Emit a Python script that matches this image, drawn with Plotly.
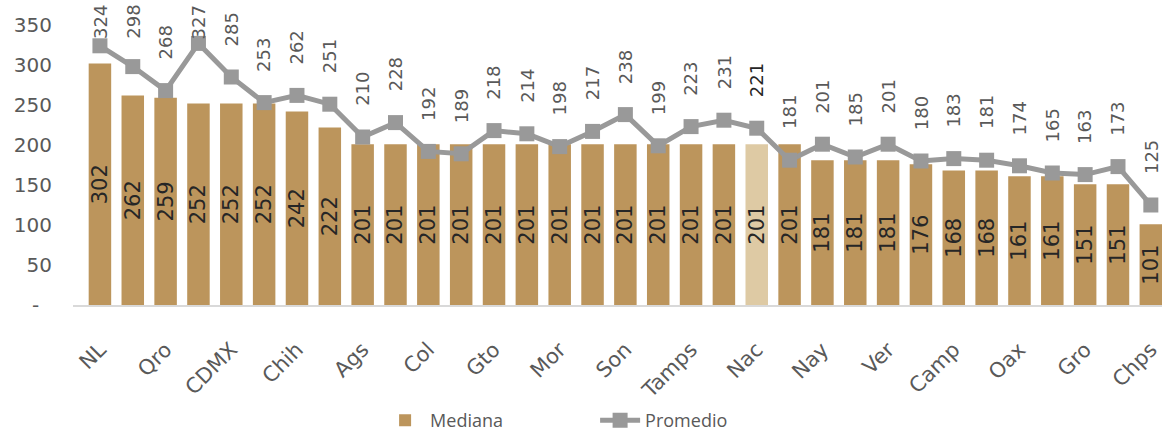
import plotly.graph_objects as go

categories = ["NL", "BC", "Qro", "Coah", "CDMX", "BCS", "Chih", "Sin", "Ags", "Jal", "Col",
              "QRoo", "Gto", "Mex", "Mor", "Hgo", "Son", "Pue", "Tamps", "Yuc", "Nac", "Dgo",
              "Nay", "SLP", "Ver", "Mich", "Camp", "Zac", "Oax", "Tab", "Gro", "Tlax", "Chps"]
mediana = [302, 262, 259, 252, 252, 252, 242, 222, 201, 201, 201, 201, 201, 201, 201, 201, 201,
           201, 201, 201, 201, 201, 181, 181, 181, 176, 168, 168, 161, 161, 151, 151, 101]
promedio = [324, 298, 268, 327, 285, 253, 262, 251, 210, 228, 192, 189, 218, 214, 198, 217, 238,
            199, 223, 231, 221, 181, 201, 185, 201, 180, 183, 181, 174, 165, 163, 173, 125]
shown_ticks = categories[::2]
y_ticks = [0, 50, 100, 150, 200, 250, 300, 350]
y_ticktext = ["-\u00a0\u00a0", "50", "100", "150", "200", "250", "300", "350"]

GOLD = "#BC955C"
LIGHT = "#DECAA4"
GRAY = "#999999"
FONT = "DejaVu Sans"

bar_colors = [LIGHT if c == "Nac" else GOLD for c in categories]

fig = go.Figure()
fig.add_trace(go.Bar(
    x=categories, y=mediana, name="Mediana",
    marker=dict(color=bar_colors, line=dict(width=0)),
    text=[str(v) for v in mediana], textposition="inside", insidetextanchor="middle",
    textangle=-90, constraintext="none",
    textfont=dict(family=FONT, size=21, color="#262626"),
))
fig.add_trace(go.Scatter(
    x=categories, y=promedio, name="Promedio", mode="lines+markers",
    line=dict(color=GRAY, width=5),
    marker=dict(symbol="square", size=15, color=GRAY),
))

for c, v in zip(categories, promedio):
    fig.add_annotation(
        x=c, y=min(v + 36, 330), xref="x", yref="y", text=str(v), showarrow=False,
        textangle=-90, yanchor="bottom", xanchor="center",
        font=dict(family=FONT, size=18, color="#262626" if c == "Nac" else "#595959"),
    )

fig.update_layout(
    width=1162, height=433,
    margin=dict(l=73, r=0, t=25, b=128, autoexpand=False),
    plot_bgcolor="white", paper_bgcolor="white",
    bargap=0.315,
    showlegend=True,
    legend=dict(orientation="h", x=0.282, xanchor="left", y=-0.413, yanchor="middle",
                font=dict(family="Open Sans", size=18, color="#595959"),
                itemwidth=40, entrywidth=160, traceorder="normal"),
    xaxis=dict(type="category", range=[-0.82, 32.34], tickmode="array", tickvals=shown_ticks,
               ticktext=shown_ticks, tickangle=-45, showgrid=False, showline=True,
               linecolor="#D9D9D9", linewidth=2, ticks="", automargin=False,
               ticklabelstandoff=22,
               tickfont=dict(family=FONT, size=21, color="#595959")),
    yaxis=dict(range=[0, 350], tickmode="array", tickvals=y_ticks, ticktext=y_ticktext,
               showgrid=False, zeroline=False, showline=False, ticks="",
               ticklabelstandoff=20, automargin=False,
               tickfont=dict(family=FONT, size=20, color="#595959")),
)

fig.write_html("out.html", config={"displayModeBar": False},
               post_script="document.body.style.margin='0';")
